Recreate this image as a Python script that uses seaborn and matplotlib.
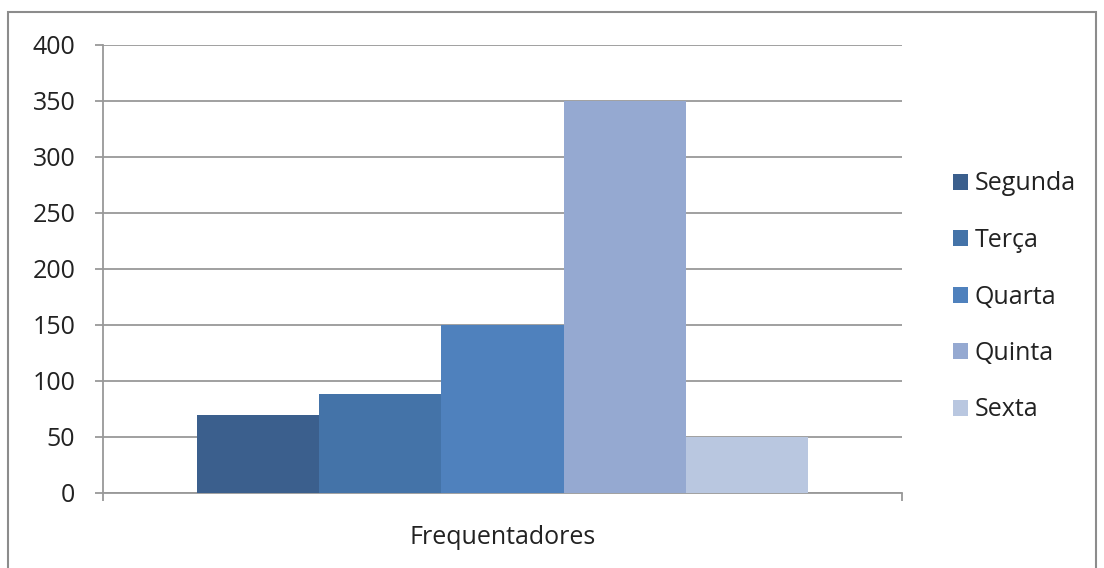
import seaborn as sns
import matplotlib.pyplot as plt
import matplotlib.patches as mpatches
import pandas as pd

# dados
categoria = "Frequentadores"
dias = ["Segunda", "Terça", "Quarta", "Quinta", "Sexta"]
valores = [70, 88, 150, 350, 50]
cores = ["#3b5f8d", "#4473a8", "#4f81bd", "#95a9d1", "#b9c7e0"]

df = pd.DataFrame({"cat": [categoria] * len(dias), "dia": dias, "valor": valores})

sns.set_theme(style="white")
plt.rcParams["font.family"] = ["Open Sans", "DejaVu Sans"]

fig = plt.figure(figsize=(11.04, 5.68), dpi=100)
ax = fig.add_axes([103 / 1104, 75 / 568, 799 / 1104, 448 / 568])

sns.barplot(data=df, x="cat", y="valor", hue="dia", hue_order=dias,
            palette=cores, width=0.765, gap=0, saturation=1,
            edgecolor="none", linewidth=0, ax=ax, legend=False, zorder=3)

ax.set_xlim(-0.5, 0.5)
ax.set_ylim(0, 400)
ax.set_yticks(range(0, 401, 50))
ax.grid(axis="y", color="#999999", linewidth=1.3, zorder=0)
ax.set_axisbelow(True)
ax.set_xlabel("")
ax.set_ylabel("")

for s in ["top", "right"]:
    ax.spines[s].set_visible(False)
for s in ["left", "bottom"]:
    ax.spines[s].set_color("#999999")
    ax.spines[s].set_linewidth(1.3)

ax.tick_params(axis="y", which="major", left=True, length=6, width=1.3,
               color="#999999", labelsize=18, pad=14, labelcolor="#222222")
ax.tick_params(axis="x", which="major", bottom=False, labelsize=18, pad=17,
               labelcolor="#222222")
ax.set_xticks([-0.5, 0.5], minor=True)
ax.tick_params(axis="x", which="minor", bottom=True, length=6, width=1.3,
               color="#999999")

handles = [mpatches.Patch(facecolor=c, edgecolor="none", label=d) for d, c in zip(dias, cores)]
fig.legend(handles=handles, loc="upper left", bbox_to_anchor=(940 / 1104, 1 - 159 / 568),
           frameon=False, fontsize=18, handlelength=0.6, handleheight=0.6,
           handletextpad=0.3, labelspacing=1.26, borderpad=0, labelcolor="#222222")

# moldura do gráfico
borda = mpatches.Rectangle((8 / 1104, -0.02), 1088 / 1104, 1.02 - 12 / 568,
                           transform=fig.transFigure, fill=False,
                           edgecolor="#8c8c8c", linewidth=1.5)
fig.patches.append(borda)

fig.savefig("out.png", dpi=100)
